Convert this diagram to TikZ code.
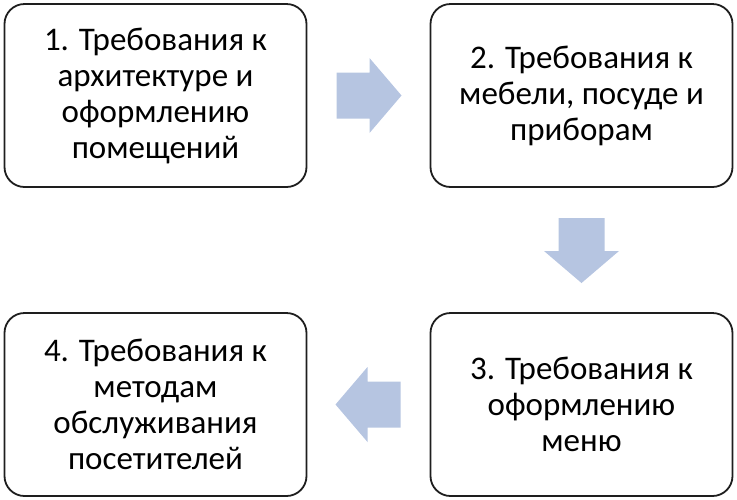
\documentclass[tikz,border=0pt]{standalone}
\usepackage{fontspec}
\setmainfont{Carlito}
\usepackage{tikz}
\usetikzlibrary{calc}
\definecolor{arrowcol}{RGB}{182,197,225}
\definecolor{framecol}{RGB}{30,30,30}

\begin{document}
\begin{tikzpicture}[x=1pt, y=-1pt,
    reqbox/.style={draw=framecol, line width=1.8pt, rounded corners=20pt,
        fill=white, minimum width=302pt, minimum height=183pt, align=center,
        font=\fontsize{33}{36}\selectfont},
    blockarrow/.pic={
        \fill[arrowcol] (-32,-23) -- (1,-23) -- (1,-37.5) -- (33,0)
            -- (1,37.5) -- (1,23) -- (-32,23) -- cycle;
    }]

    \useasboundingbox (0,0) rectangle (737,499);

    % Requirement boxes
    \node[reqbox] (arch) at (155.5,95.5) {1. Требования к\\архитектуре и\\оформлению\\помещений};
    \node[reqbox] (furn) at (581.5,95.5) {2. Требования к\\мебели, посуде и\\приборам};
    \node[reqbox] (menu) at (581.5,404.5) {3. Требования к\\оформлению\\меню};
    \node[reqbox] (serv) at (155.5,404.5) {4. Требования к\\методам\\обслуживания\\посетителей};

    % Block arrows between the boxes
    \coordinate (archfurn) at ($(arch.east)!0.5!(furn.west)$);
    \coordinate (furnmenu) at ($(furn.south)!0.5!(menu.north)$);
    \coordinate (menuserv) at ($(menu.west)!0.5!(serv.east)$);
    \pic at (archfurn) {blockarrow};
    \pic[rotate=-90] at (furnmenu) {blockarrow};
    \pic[rotate=180] at (menuserv) {blockarrow};

\end{tikzpicture}
\end{document}
